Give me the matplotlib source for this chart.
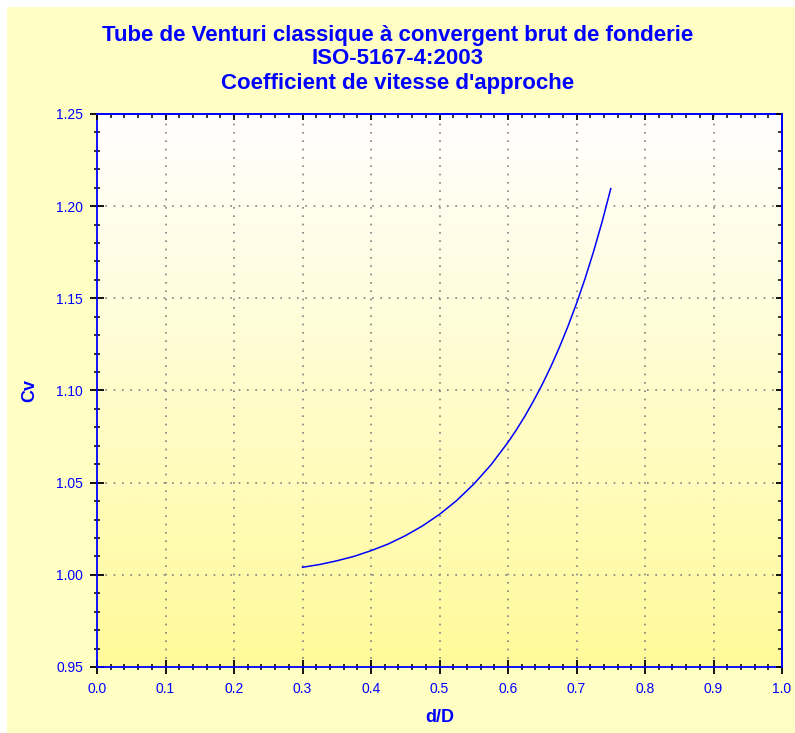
import numpy as np
import matplotlib.pyplot as plt
from matplotlib.ticker import MultipleLocator, FormatStrFormatter, NullFormatter

# d/D values and approach velocity coefficient
beta = [0.300, 0.325, 0.350, 0.375, 0.400, 0.425, 0.450, 0.475, 0.500, 0.525,
        0.550, 0.575, 0.600, 0.6125, 0.625, 0.6375, 0.650, 0.6625, 0.675, 0.6875,
        0.700, 0.7125, 0.725, 0.7375, 0.750]
cv = [1.0041, 1.0056, 1.0076, 1.0100, 1.0131, 1.0167, 1.0212, 1.0265, 1.0328, 1.0403,
      1.0492, 1.0596, 1.0719, 1.0788, 1.0863, 1.0945, 1.1033, 1.1129, 1.1234, 1.1348,
      1.1472, 1.1607, 1.1755, 1.1917, 1.2095]

title_lines = ["Tube de Venturi classique à convergent brut de fonderie",
               "ISO-5167-4:2003",
               "Coefficient de vitesse d'approche"]

blue = '#0000ff'
plt.rcParams['font.family'] = ['Liberation Sans', 'DejaVu Sans']

fig = plt.figure(figsize=(7.95, 7.33), dpi=100, facecolor='white')
# yellow panel with a thin white margin top and left
fig.patches.append(plt.Rectangle((7 / 795, 0), 1, 1 - 7 / 733, transform=fig.transFigure,
                                 facecolor='#ffffc4', edgecolor='none', zorder=-10))

ax = fig.add_axes([97 / 795, 1 - 667 / 733, 685 / 795, 553 / 733])

# white-to-yellow vertical gradient inside the plot area
grad = np.linspace(0, 1, 256).reshape(-1, 1)
top = np.array([1.0, 1.0, 1.0])
bot = np.array([1.0, 0.98, 0.60])
img = top + (bot - top) * grad[:, :, None]
ax.imshow(img, extent=[0, 1, 0, 1], transform=ax.transAxes, aspect='auto', zorder=0)

ax.plot(beta, cv, color=blue, lw=1.1, zorder=3)

ax.set_xlim(0, 1)
ax.set_ylim(0.95, 1.25)
ax.xaxis.set_major_locator(MultipleLocator(0.1))
ax.xaxis.set_minor_locator(MultipleLocator(0.02))
ax.yaxis.set_major_locator(MultipleLocator(0.05))
ax.yaxis.set_minor_locator(MultipleLocator(0.01))
ax.xaxis.set_major_formatter(FormatStrFormatter('%.1f'))
ax.yaxis.set_major_formatter(FormatStrFormatter('%.2f'))

ax.grid(which='major', color='#808080', linestyle=(0, (1, 4)), lw=1.2, zorder=1)

ax.tick_params(which='both', direction='inout', color='black', labelcolor=blue,
               labelsize=10)
ax.tick_params(which='major', length=10, width=1.3)
ax.tick_params(which='minor', length=5, width=1.1)
ax.tick_params(axis='x', pad=6)
ax.tick_params(axis='y', pad=5)

# inward ticks on top and right edges
sx = ax.secondary_xaxis('top')
sy = ax.secondary_yaxis('right')
for sec in (sx, sy):
    sec.set_zorder(4)
sx.xaxis.set_major_locator(MultipleLocator(0.1))
sx.xaxis.set_minor_locator(MultipleLocator(0.02))
sx.xaxis.set_major_formatter(NullFormatter())
sy.yaxis.set_major_locator(MultipleLocator(0.05))
sy.yaxis.set_minor_locator(MultipleLocator(0.01))
sy.yaxis.set_major_formatter(NullFormatter())
for sec in (sx, sy):
    sec.tick_params(which='both', direction='in', color='black')
    sec.tick_params(which='major', length=4.5, width=1.3)
    sec.tick_params(which='minor', length=3, width=1.1)
    for s in sec.spines.values():
        s.set_color(blue)
        s.set_linewidth(1.3)

for s in ax.spines.values():
    s.set_color(blue)
    s.set_linewidth(1.3)
    s.set_zorder(4)

ax.set_xlabel('d/D', color=blue, fontsize=13, fontweight='bold', labelpad=9)
ax.set_ylabel('Cv', color=blue, fontsize=13, fontweight='bold', labelpad=13)

for i, line in enumerate(title_lines):
    fig.text(0.5, 1 - (35 + 24 * i) / 733, line, ha='center', va='center',
             color=blue, fontsize=16, fontweight='bold')

fig.savefig('out.png', dpi=100, facecolor=fig.get_facecolor())
